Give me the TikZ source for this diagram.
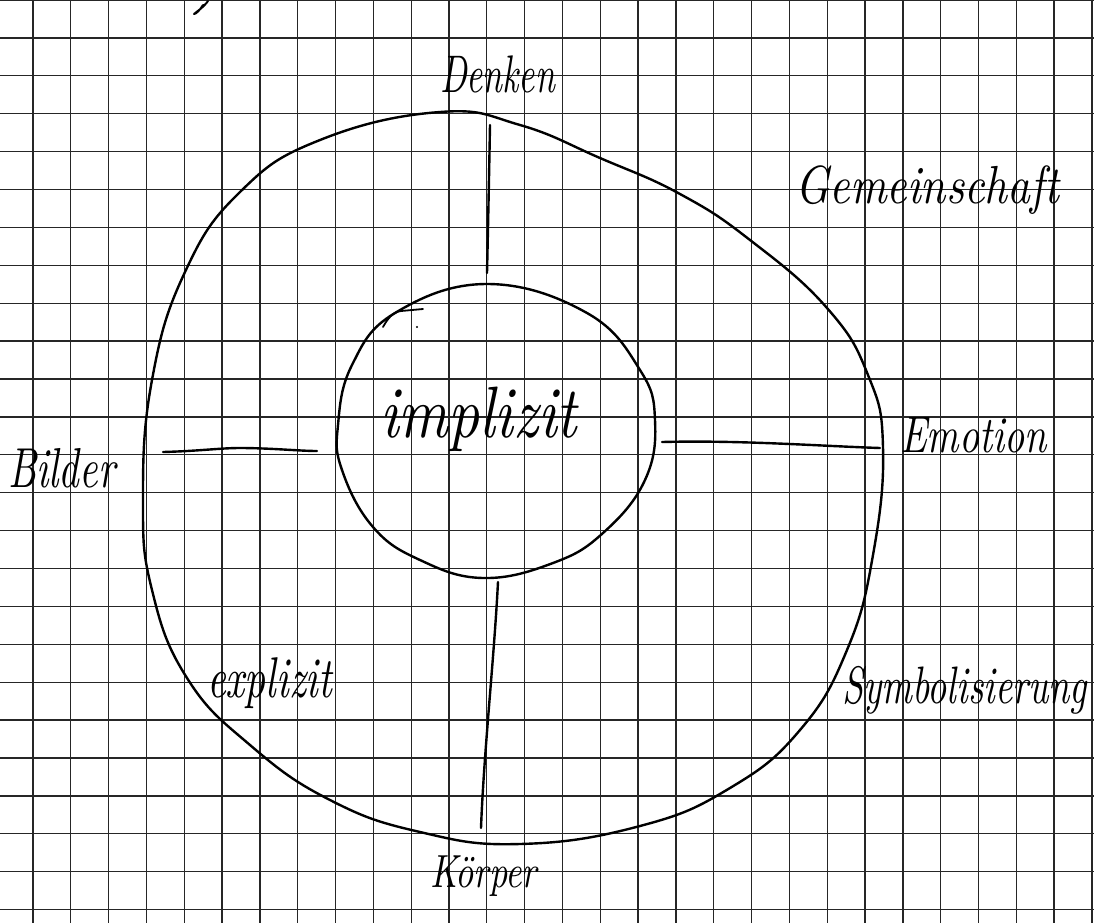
\documentclass[tikz,border=0pt]{standalone}
\usepackage{graphicx}
\newcommand{\hwtext}[3]{\scalebox{1}[#2]{\resizebox{#1}{!}{\itshape #3}}}
\tikzset{
  gridline/.style={draw=black!85, line width=0.65pt},
  pen/.style={draw=black, line width=1.2pt, line cap=round, line join=round},
  lbl/.style={anchor=base west, inner sep=0pt, outer sep=0pt}
}
\begin{document}
\begin{tikzpicture}[x=0.5pt, y=-0.5pt]
\useasboundingbox[fill=white] (0,0) rectangle (1094,923);
% graph paper
\foreach \k in {0,...,28} {\draw[gridline] ({33+37.82*\k},0) -- ({33+37.82*\k},923);}
\foreach \k in {0,...,24} {\draw[gridline] (0,{37.9*\k}) -- (1094,{37.9*\k});}

% outer closed curve
\draw[pen] plot[smooth cycle, tension=0.75] coordinates {
  (440,112) (520,125) (600,158) (680,194) (750,240)
  (827,308) (868,375) (883,447) (873,555) (847,650)
  (800,730) (730,788) (640,826) (520,844) (420,832)
  (330,800) (250,745) (187,678) (152,590) (143,500)
  (152,380) (185,272) (240,192) (320,140)};

% inner circle
\draw[pen] plot[smooth cycle, tension=0.7] coordinates {
  (487,284) (587,313) (640,370) (655,420) (645,480)
  (603,533) (553,563) (483,578) (420,560) (373,527) (342,470)
  (338,425) (352,365) (395,313)};

% spokes
\coordinate (topA) at (490,125);
\coordinate (topB) at (487,273);
\coordinate (botA) at (498,582);
\coordinate (botB) at (481,828);
\coordinate (lefA) at (163,452);
\coordinate (lefM) at (240,448);
\coordinate (lefB) at (317,451);
\coordinate (rigA) at (662,442);
\coordinate (rigB) at (880,448);
\draw[pen] (topA) .. controls (489,180) and (488,230) .. (topB);
\draw[pen] (botA) .. controls (494,660) and (484,750) .. (botB);
\draw[pen] (lefA) .. controls (200,451) and (220,448) .. (lefM) .. controls (270,448) and (300,451) .. (lefB);
\draw[pen] (rigA) .. controls (740,440) and (820,446) .. (rigB);

% small strokes
\draw[pen, line width=0.9pt] (383,327) .. controls (388,318) and (393,312) .. (401,311) -- (423,309);
\fill (417,327) circle (1.2);
\draw[pen, line width=1pt] (208,1) .. controls (203,8) and (196,12) .. (194,14) .. controls (196,14) and (200,10) .. (203,5);

% labels
\node[lbl] (denken) at (440,92) {\hwtext{57.5pt}{1.5}{Denken}};
\node[lbl] (gemein) at (795,203) {\hwtext{132pt}{1.2}{Gemeinschaft}};
\node[lbl] (bilder) at (8,487) {\hwtext{53.5pt}{1.4}{Bilder}};
\node[lbl] (emotion) at (900,452) {\hwtext{73.5pt}{1.3}{Emotion}};
\node[lbl] (symbol) at (842,703) {\hwtext{122.5pt}{1.4}{Symbolisierung}};
\node[lbl] (koerper) at (430,887) {\hwtext{53.5pt}{1.3}{Körper}};
\node[lbl] (impl) at (380,437) {\hwtext{98.5pt}{1.2}{implizit}};
\node[lbl] (expl) at (207,697) {\hwtext{62.5pt}{1.4}{explizit}};
\end{tikzpicture}
\end{document}
